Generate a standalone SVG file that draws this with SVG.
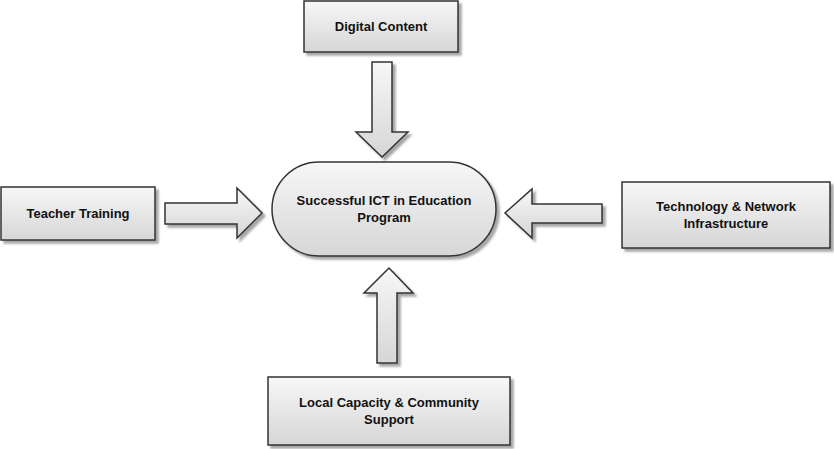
<svg xmlns="http://www.w3.org/2000/svg" width="834" height="449" viewBox="0 0 834 449">
<defs>
<linearGradient id="g" x1="0" y1="0" x2="0" y2="1">
<stop offset="0" stop-color="#f7f7f7"/>
<stop offset="1" stop-color="#d6d6d6"/>
</linearGradient>
<linearGradient id="gh" x1="0" y1="0" x2="1" y2="0">
<stop offset="0" stop-color="#f7f7f7"/>
<stop offset="1" stop-color="#d6d6d6"/>
</linearGradient>
<filter id="sh" x="-10%" y="-10%" width="130%" height="130%">
<feGaussianBlur in="SourceAlpha" stdDeviation="0.8"/>
<feOffset dx="3" dy="3" result="o"/>
<feComponentTransfer><feFuncA type="linear" slope="0.35"/></feComponentTransfer>
<feMerge><feMergeNode/><feMergeNode in="SourceGraphic"/></feMerge>
</filter>
</defs>
<style>
.n{fill:url(#g);stroke:#333;stroke-width:1.5;filter:url(#sh)}
.a{fill:url(#g);stroke:#333;stroke-width:1.5;stroke-linejoin:miter;filter:url(#sh)}
.t{font-family:"Liberation Sans",Arial,sans-serif;font-weight:bold;font-size:13px;fill:#111;text-anchor:middle}
</style>
<g id="digital-content">
<rect class="n" x="304" y="1" width="154" height="51"/>
<text class="t" x="381" y="31">Digital Content</text>
</g>
<g id="teacher-training">
<rect class="n" x="1" y="187" width="154" height="53"/>
<text class="t" x="78" y="218">Teacher Training</text>
</g>
<g id="program">
<rect class="n" x="272" y="162" width="224" height="94" rx="47" ry="47"/>
<text class="t" x="384" y="205">Successful ICT in Education</text>
<text class="t" x="384" y="222">Program</text>
</g>
<g id="technology">
<rect class="n" x="622" y="182" width="208" height="66"/>
<text class="t" x="726" y="211">Technology &amp; Network</text>
<text class="t" x="726" y="228">Infrastructure</text>
</g>
<g id="local-capacity">
<rect class="n" x="268" y="377" width="242" height="68"/>
<text class="t" x="389" y="407">Local Capacity &amp; Community</text>
<text class="t" x="389" y="424">Support</text>
</g>
<g id="connectors">
<path class="a" d="M372,62 H392 V132 H408 L382,157 L356,132 H372 Z"/>
<path class="a" d="M165,203 H237 V188 L262,213 L237,238 V224 H165 Z"/>
<path class="a" d="M602,204 H532 V189 L505,213 L532,238 V223 H602 Z"/>
<path class="a" d="M377,363 H397 V293 H413 L389,268 L364,293 H377 Z"/>
</g>
</svg>
